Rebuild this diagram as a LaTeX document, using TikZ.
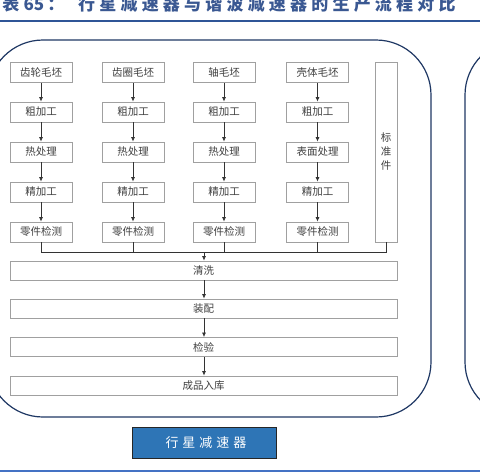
\documentclass[tikz,border=0pt]{standalone}
\usepackage{fontspec}
\newfontfamily\cjk{Noto Sans CJK SC}
\usetikzlibrary{arrows.meta}
\definecolor{titleblue}{RGB}{58,88,146}
\definecolor{rulea}{RGB}{47,85,151}
\definecolor{ruleb}{RGB}{68,114,196}
\definecolor{navy}{RGB}{31,56,100}
\definecolor{btn}{RGB}{46,117,182}
\definecolor{boxgray}{RGB}{160,160,160}
\definecolor{txt}{RGB}{64,64,64}
\def\spaced#1#2{\def\spgap{#1}\spacedaux#2\relax}
\def\spacedaux#1{\ifx#1\relax\else#1\hspace{\spgap}\expandafter\spacedaux\fi}
\tikzset{
  pbox/.style={draw=boxgray, line width=0.8pt, fill=white, inner sep=0pt,
    minimum height=20pt, text=txt, font=\cjk\fontsize{10.5}{12}\selectfont},
  cbox/.style={pbox, minimum width=62pt},
  wbox/.style={pbox, minimum width=387pt},
  flow/.style={draw=black!80, line width=0.7pt, -{Latex[length=4.5pt,width=4pt]}},
  link/.style={draw=black!80, line width=0.7pt},
  frame/.style={draw=navy, line width=1.2pt, rounded corners=55pt}
}
\begin{document}
\begin{tikzpicture}[x=1pt,y=-1pt]
\clip (0,0) rectangle (480,475);
\fill[white] (0,0) rectangle (480,475);
% title
\node[anchor=base west, inner sep=0pt, text=titleblue, font=\cjk\bfseries\fontsize{17}{20}\selectfont] (title) at (-19,10)
  {\makebox[97pt][l]{\spaced{4.2pt}{图表}65\hspace{3pt}：}\spaced{4.2pt}{行星减速器与谐波减速器的生产流程对比}};
\draw[rulea, line width=1.5pt] (0,21) -- (480,21);
\draw[ruleb, line width=1.5pt] (0,471) -- (480,471);
% frames
\draw[frame] (-12,40) rectangle (431,417);
\draw[frame] (465,40) rectangle (580,417);
% column boxes
\foreach \c/\x/\a/\b/\d in {1/41/齿轮毛坯/粗加工/热处理, 2/133/齿圈毛坯/粗加工/热处理, 3/224/轴毛坯/粗加工/热处理, 4/317.5/壳体毛坯/粗加工/表面处理}{
  \node[cbox] (r1c\c) at (\x,72.5) {\a};
  \node[cbox] (r2c\c) at (\x,112) {\b};
  \node[cbox] (r3c\c) at (\x,152) {\d};
  \node[cbox] (r4c\c) at (\x,192) {精加工};
  \node[cbox] (r5c\c) at (\x,232) {零件检测};
  \draw[flow] (r1c\c) -- (r2c\c);
  \draw[flow] (r2c\c) -- (r3c\c);
  \draw[flow] (r3c\c) -- (r4c\c);
  \draw[flow] (r4c\c) -- (r5c\c);
}
\node[pbox, minimum width=22pt, minimum height=180pt, align=center,
  font=\cjk\fontsize{10.5}{14}\selectfont] (std) at (386,152) {标\\准\\件};
% collector
\coordinate (j) at (204,252);
\draw[link] (r5c1.south) |- (j -| std.south) -- (std.south);
\draw[link] (r5c2.south) -- (r5c2.south |- j);
\draw[link] (r5c3.south) -- (r5c3.south |- j);
\draw[link] (r5c4.south) -- (r5c4.south |- j);
% wide boxes
\node[wbox, minimum height=19pt] (clean) at (203.5,270.5) {清洗};
\node[wbox, minimum height=19pt] (asm) at (203.5,308.5) {装配};
\node[wbox, minimum height=19pt] (chk) at (203.5,347) {检验};
\node[wbox, minimum height=19pt] (store) at (203.5,385.5) {成品入库};
\draw[flow] (j) -- (j |- clean.north);
\draw[flow] (clean.south -| j) -- (asm.north -| j);
\draw[flow] (asm.south -| j) -- (chk.north -| j);
\draw[flow] (chk.south -| j) -- (store.north -| j);
% button
\node[draw=black!85, line width=1pt, fill=btn, minimum width=144pt, minimum height=31pt,
  inner sep=0pt, text=white, font=\cjk\fontsize{13}{15}\selectfont] (btnlabel) at (204,442.5)
  {\hspace{4pt}\spaced{4pt}{行星减速器}};
\end{tikzpicture}
\end{document}
